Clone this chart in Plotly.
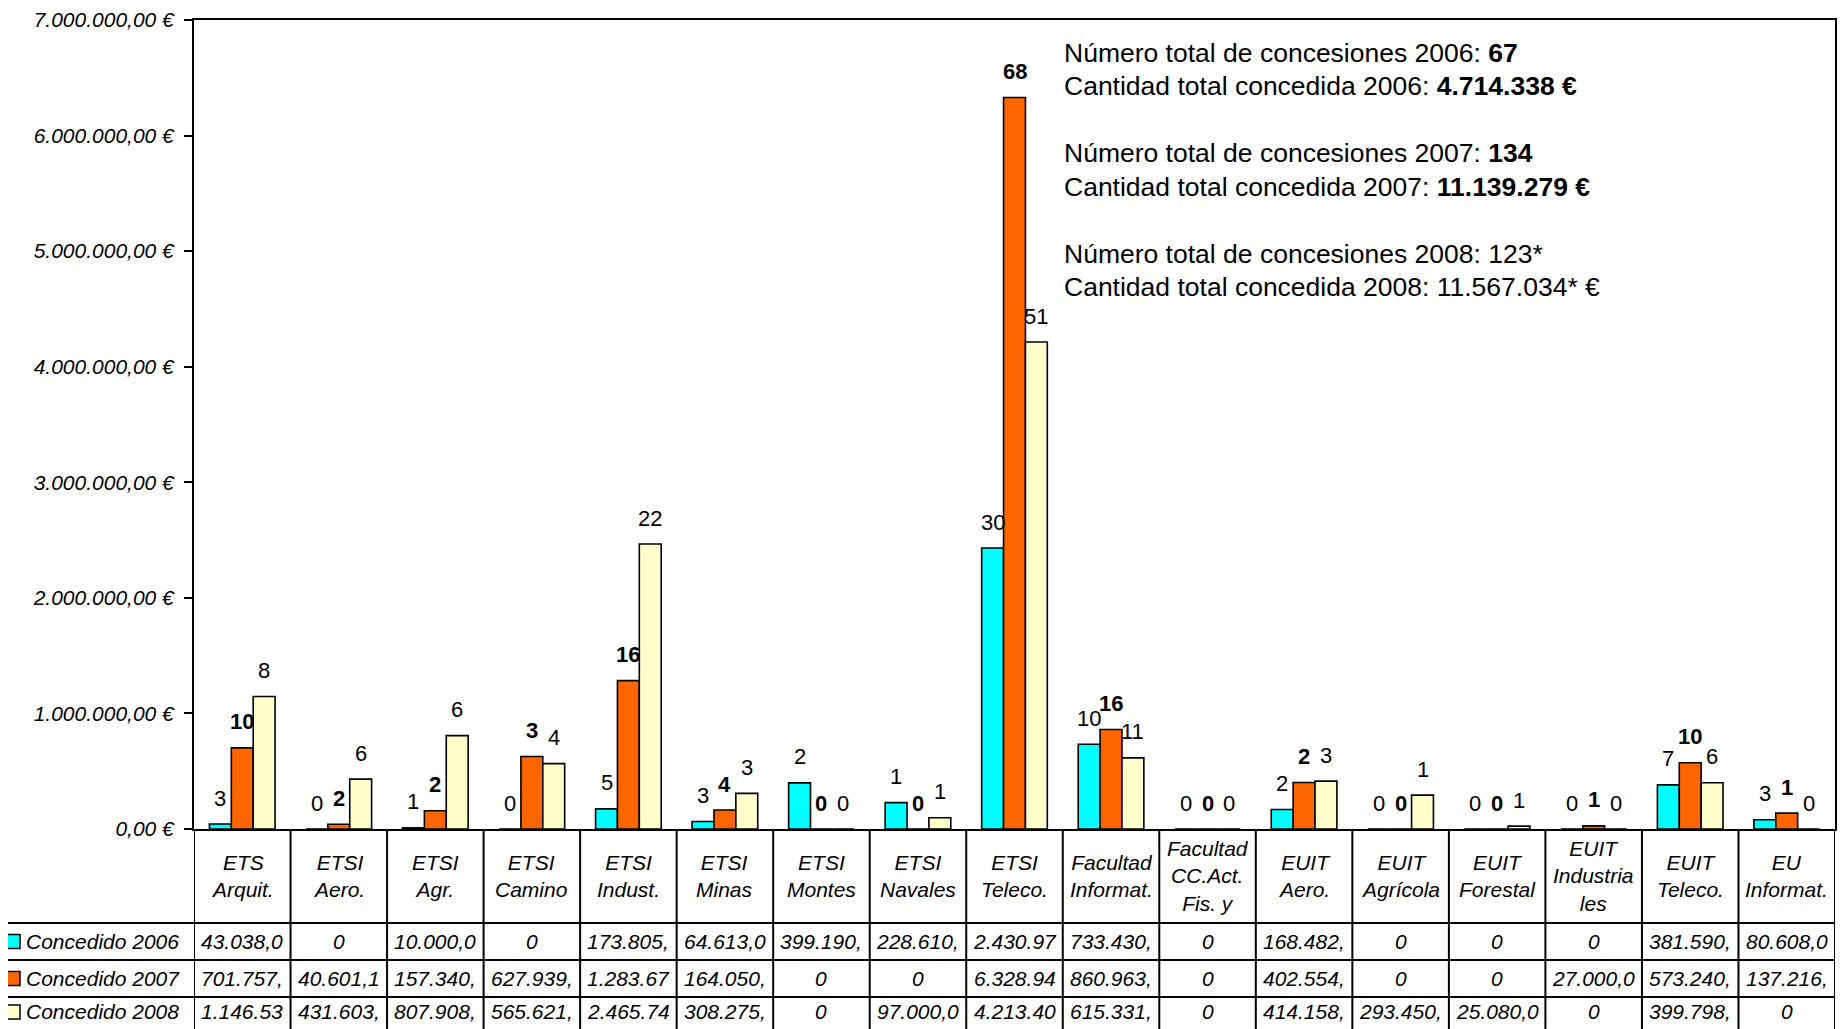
import plotly.graph_objects as go

# ---------------- data ----------------
categories = ["ETS Arquit.", "ETSI Aero.", "ETSI Agr.", "ETSI Camino", "ETSI Indust.",
              "ETSI Minas", "ETSI Montes", "ETSI Navales", "ETSI Teleco.",
              "Facultad Informat.", "Facultad CC.Act. Fis. y", "EUIT Aero.",
              "EUIT Agrícola", "EUIT Forestal", "EUIT Industriales", "EUIT Teleco.",
              "EU Informat."]
category_labels = ["ETS<br>Arquit.", "ETSI<br>Aero.", "ETSI<br>Agr.", "ETSI<br>Camino",
                   "ETSI<br>Indust.", "ETSI<br>Minas", "ETSI<br>Montes", "ETSI<br>Navales",
                   "ETSI<br>Teleco.", "Facultad<br>Informat.", "Facultad<br>CC.Act.<br>Fis. y",
                   "EUIT<br>Aero.", "EUIT<br>Agrícola", "EUIT<br>Forestal",
                   "EUIT<br>Industria<br>les", "EUIT<br>Teleco.", "EU<br>Informat."]

series_names = ["Concedido 2006", "Concedido 2007", "Concedido 2008"]
amount_2006 = [43038, 0, 10000, 0, 173805, 64613, 399190, 228610, 2430972,
               733430, 0, 168482, 0, 0, 0, 381590, 80608]
amount_2007 = [701757, 40601.1, 157340, 627939, 1283675, 164050, 0, 0, 6328945,
               860963, 0, 402554, 0, 0, 27000, 573240, 137216]
amount_2008 = [1146535, 431603, 807908, 565621, 2465745, 308275, 0, 97000, 4213405,
               615331, 0, 414158, 293450, 25080, 0, 399798, 0]
count_2006 = [3, 0, 1, 0, 5, 3, 2, 1, 30, 10, 0, 2, 0, 0, 0, 7, 3]
count_2007 = [10, 2, 2, 3, 16, 4, 0, 0, 68, 16, 0, 2, 0, 0, 1, 10, 1]
count_2008 = [8, 6, 6, 4, 22, 3, 0, 1, 51, 11, 0, 3, 1, 1, 0, 6, 0]
y_ticks = [0, 1000000, 2000000, 3000000, 4000000, 5000000, 6000000, 7000000]

summary_lines = [
    ("Número total de concesiones 2006: ", "67", True),
    ("Cantidad total concedida 2006: ", "4.714.338 €", True),
    ("Número total de concesiones 2007: ", "134", True),
    ("Cantidad total concedida 2007: ", "11.139.279 €", True),
    ("Número total de concesiones 2008: ", "123*", False),
    ("Cantidad total concedida 2008: ", "11.567.034* €", False),
]

colors = ["#00FFFF", "#FF6600", "#FFFFCC"]
amounts = [amount_2006, amount_2007, amount_2008]
counts = [count_2006, count_2007, count_2008]

# ---------------- layout constants ----------------
# page body has an 8px default margin; figure placed at (8, 8) in the window
OFF = 8
WIN_W, WIN_H = 1847, 1029
W, H = WIN_W - 2 * OFF, WIN_H - OFF
PLOT_L, PLOT_R, PLOT_T, PLOT_B = 194, 1835, 20, 829   # window pixel coords
L = PLOT_L - OFF
R = W - (PLOT_R - OFF)
T = PLOT_T - OFF
B = H - (PLOT_B - OFF)
PW = PLOT_R - PLOT_L
PH = PLOT_B - PLOT_T
BARGAP = 0.32
FONT = "Liberation Sans, Arial, sans-serif"


def py2paper(py):
    return (PLOT_B - py) / PH


def px2paper(px):
    return (px - PLOT_L) / PW


def es_num(v):
    return f"{v:,.2f}".replace(",", "X").replace(".", ",").replace("X", ".")


def cell_text(v):
    if v == 0:
        return "0"
    return es_num(v)[:8]


fig = go.Figure()
for name, vals, col in zip(series_names, amounts, colors):
    fig.add_trace(go.Bar(x=categories, y=vals, name=name,
                         marker=dict(color=col, line=dict(color="black", width=1.6)),
                         showlegend=False))

annotations = []
shapes = []
bw = (1 - BARGAP) / 3

# bar count labels
for k, (vals, cnts) in enumerate(zip(amounts, counts)):
    for i, (v, c) in enumerate(zip(vals, cnts)):
        txt = f"<b>{c}</b>" if k == 1 else str(c)
        annotations.append(dict(x=i + (k - 1) * bw, y=v, xref="x", yref="y",
                                text=txt, showarrow=False, yanchor="middle", yshift=26,
                                font=dict(family=FONT, size=22, color="black")))

# summary text
sum_y = [53, 86, 153, 187, 254, 287]
for (lab, val, bold), yy in zip(summary_lines, sum_y):
    t = lab + (f"<b>{val}</b>" if bold else val)
    annotations.append(dict(x=px2paper(1062), y=py2paper(yy), xref="paper", yref="paper",
                            text=t, showarrow=False, xanchor="left", yanchor="middle",
                            font=dict(family=FONT, size=26.5, color="black")))

# table geometry
row_lines = [923, 960, 997]
row_centers = [941.5, 978.5, 1012]
bottom_py = WIN_H + 10
for py in row_lines:
    shapes.append(dict(type="line", xref="paper", yref="paper", x0=px2paper(0), x1=1,
                       y0=py2paper(py), y1=py2paper(py), line=dict(color="black", width=2)))
for i in range(len(categories) + 1):
    shapes.append(dict(type="line", xref="x", yref="paper", x0=i - 0.5, x1=i - 0.5,
                       y0=0, y1=py2paper(bottom_py), line=dict(color="black", width=2)))

# category header labels
for i, lab in enumerate(category_labels):
    annotations.append(dict(x=i, y=py2paper(876), xref="x", yref="paper", text=lab,
                            showarrow=False, yanchor="middle",
                            font=dict(family=FONT, size=21, color="black", style="italic")))

# table rows
for r, (name, vals, col) in enumerate(zip(series_names, amounts, colors)):
    yc = row_centers[r]
    shapes.append(dict(type="rect", xref="paper", yref="paper",
                       x0=px2paper(6), x1=px2paper(20), y0=py2paper(yc - 7), y1=py2paper(yc + 7),
                       fillcolor=col, line=dict(color="black", width=1.5)))
    annotations.append(dict(x=px2paper(24), y=py2paper(yc), xref="paper", yref="paper",
                            text=name, showarrow=False, xanchor="left", yanchor="middle",
                            font=dict(family=FONT, size=21, color="black", style="italic")))
    for i, v in enumerate(vals):
        annotations.append(dict(x=i, y=py2paper(yc), xref="x", yref="paper",
                                text=cell_text(v), showarrow=False, yanchor="middle",
                                font=dict(family=FONT, size=21, color="black", style="italic")))

fig.update_layout(
    width=W, height=H,
    margin=dict(l=L, r=R, t=T, b=B, autoexpand=False),
    paper_bgcolor="white", plot_bgcolor="white",
    barmode="group", bargap=BARGAP, bargroupgap=0,
    annotations=annotations, shapes=shapes,
    font=dict(family=FONT, color="black"),
)
fig.update_xaxes(showticklabels=False, showline=True, linecolor="black", linewidth=2,
                 mirror=True, ticks="", showgrid=False, zeroline=False, automargin=False,
                 range=[-0.5, len(categories) - 0.5])
fig.update_yaxes(range=[0, 7000000], tickmode="array", tickvals=y_ticks,
                 ticktext=[es_num(v) + " €" for v in y_ticks],
                 showline=True, linecolor="black", linewidth=2, mirror=True,
                 ticks="outside", ticklen=8, tickwidth=2, tickcolor="black",
                 showgrid=False, zeroline=False, ticklabelstandoff=6, automargin=False,
                 tickfont=dict(family=FONT, size=21, color="black", style="italic"))

fig.write_html("out.html")
